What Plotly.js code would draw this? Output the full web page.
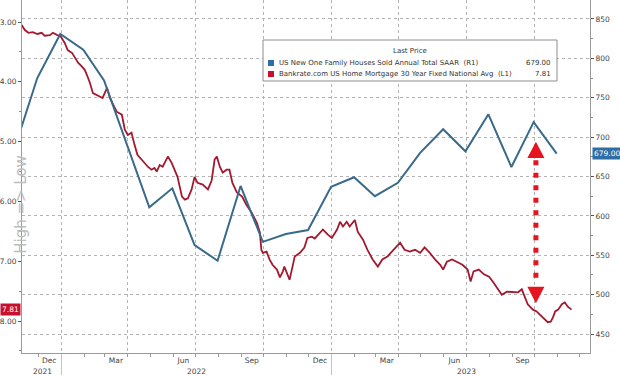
<!DOCTYPE html>
<html>
<head>
<meta charset="utf-8">
<script src="https://cdn.plot.ly/plotly-3.0.1.min.js"></script>
<style>
  html, body { margin: 0; padding: 0; background: #ffffff; }
  #chart { width: 620px; height: 375px; }
</style>
</head>
<body>
<div id="chart"></div>
<script>
// ---------------- DATA ----------------
// US New One Family Houses Sold Annual Total SAAR (thousands), monthly (right axis)
const salesDates = ['2021-10-31','2021-11-30','2021-12-31','2022-01-31','2022-02-28','2022-03-31',
  '2022-04-30','2022-05-31','2022-06-30','2022-07-31','2022-08-31','2022-09-30','2022-10-31',
  '2022-11-30','2022-12-31','2023-01-31','2023-02-28','2023-03-31','2023-04-30','2023-05-31',
  '2023-06-30','2023-07-31','2023-08-31','2023-09-30','2023-10-31'];
const salesValues = [687, 775, 831, 811, 772, 689, 611, 635, 563, 543, 638, 567, 577,
  582, 637, 649, 625, 642, 680, 710, 682, 729, 662, 719, 679];

// Bankrate.com US Home Mortgage 30 Year Fixed National Avg (%), left axis (inverted)
const rateDates = ['2021-11-09','2021-11-13','2021-11-18','2021-11-24','2021-11-30','2021-12-06',
  '2021-12-10','2021-12-17','2021-12-21','2021-12-27','2021-12-31','2022-01-06','2022-01-10',
  '2022-01-16','2022-01-20','2022-01-24','2022-01-28','2022-02-02','2022-02-06','2022-02-09',
  '2022-02-13','2022-02-18','2022-02-22','2022-02-26','2022-03-04','2022-03-08','2022-03-11',
  '2022-03-17','2022-03-24','2022-03-28','2022-04-01','2022-04-06','2022-04-10','2022-04-14',
  '2022-04-21','2022-04-28','2022-05-03','2022-05-07','2022-05-10','2022-05-14','2022-05-18',
  '2022-05-25','2022-05-30','2022-06-03','2022-06-07','2022-06-13','2022-06-17','2022-06-21',
  '2022-06-26','2022-06-30','2022-07-04','2022-07-11','2022-07-18','2022-07-23','2022-07-27',
  '2022-07-30','2022-08-03','2022-08-07','2022-08-12','2022-08-16','2022-08-20','2022-08-26',
  '2022-09-02','2022-09-08','2022-09-15','2022-09-22','2022-09-26','2022-09-28','2022-09-30',
  '2022-10-05','2022-10-09','2022-10-13','2022-10-19','2022-10-23','2022-10-27','2022-10-29',
  '2022-11-02','2022-11-05','2022-11-09','2022-11-12','2022-11-19','2022-11-25','2022-11-29',
  '2022-12-05','2022-12-09','2022-12-13','2022-12-20','2022-12-27','2023-01-01','2023-01-08',
  '2023-01-12','2023-01-16','2023-01-21','2023-01-25','2023-02-01','2023-02-05','2023-02-12',
  '2023-02-18','2023-02-25','2023-03-04','2023-03-10','2023-03-17','2023-03-25','2023-04-03',
  '2023-04-09','2023-04-16','2023-04-23','2023-04-30','2023-05-06','2023-05-13','2023-05-20',
  '2023-05-27','2023-05-31','2023-06-05','2023-06-12','2023-06-19','2023-06-26','2023-07-03',
  '2023-07-07','2023-07-11','2023-07-18','2023-07-25','2023-08-01','2023-08-07','2023-08-13',
  '2023-08-18','2023-08-25','2023-09-02','2023-09-09','2023-09-14','2023-09-18','2023-09-22',
  '2023-09-29','2023-10-04','2023-10-08','2023-10-12','2023-10-15','2023-10-19','2023-10-23',
  '2023-10-26','2023-10-29','2023-11-02','2023-11-07','2023-11-11','2023-11-15','2023-11-20'];
const rateValues = [3.05,3.13,3.18,3.17,3.20,3.18,
  3.23,3.22,3.18,3.22,3.23,3.35,3.47,
  3.52,3.60,3.68,3.73,3.80,3.92,4.02,
  4.19,4.22,4.25,4.27,4.10,4.27,4.35,
  4.50,4.55,4.80,4.89,4.85,5.05,5.22,
  5.32,5.42,5.47,5.44,5.50,5.39,5.42,
  5.25,5.35,5.47,5.59,5.92,5.97,5.95,
  5.80,5.59,5.69,5.72,5.80,5.65,5.30,
  5.25,5.42,5.52,5.47,5.47,5.69,5.85,
  5.92,6.06,6.19,6.36,6.52,6.81,6.86,
  6.84,6.97,7.06,7.14,7.27,7.17,7.09,
  7.22,7.31,7.09,6.92,6.86,6.77,6.61,
  6.59,6.62,6.56,6.47,6.56,6.61,6.47,
  6.34,6.42,6.34,6.42,6.31,6.51,6.64,
  6.81,6.97,7.09,6.97,6.92,6.81,6.69,
  6.81,6.84,6.81,6.86,6.77,6.86,6.97,
  7.06,7.14,7.01,6.97,7.01,7.06,7.14,
  7.34,7.17,7.14,7.22,7.26,7.36,7.47,
  7.56,7.51,7.52,7.52,7.47,7.59,7.72,
  7.81,7.84,7.89,7.94,7.97,8.02,8.01,
  7.94,7.84,7.81,7.72,7.69,7.76,7.81];

const salesName = 'US New One Family Houses Sold Annual Total SAAR  (R1)';
const rateName  = 'Bankrate.com US Home Mortgage 30 Year Fixed National Avg  (L1)';
const legendTitle = 'Last Price';
const yTitle = 'High => Low';

// Tick labels
const monthTickDates  = ['2021-12-16','2022-03-16','2022-06-15','2022-09-15','2022-12-16','2023-03-16','2023-06-15','2023-09-15'];
const monthTickLabels = ['Dec','Mar','Jun','Sep','Dec','Mar','Jun','Sep'];
const yearLabelDates  = ['2021-12-07','2022-07-02','2023-07-01'];
const yearLabels      = ['2021','2022','2023'];
const yearBoundaries  = ['2022-01-01','2023-01-01'];

// ---------------- STYLE / LAYOUT ----------------
const xRange = ['2021-11-09 10:00', '2023-12-14 22:00'];
const leftRange = [8.535, 2.632];
const rightRange = [425.9, 874.1];

const blue = '#3a6a89';
const red = '#a3192f';
const arrowRed = '#e5141f';
const gridCol = '#b4b4b4';
const axisCol = '#9a9a9a';
const tickFont = {family: 'DejaVu Sans', size: 7.5, color: '#444'};
const legFont = {family: 'DejaVu Sans', size: 7, color: '#333'};

const traces = [
  {x: rateDates, y: rateValues, type: 'scatter', mode: 'lines', xaxis: 'x', yaxis: 'y',
   line: {color: red, width: 1.8}, name: rateName, hoverinfo: 'skip'},
  {x: salesDates, y: salesValues, type: 'scatter', mode: 'lines', xaxis: 'x2', yaxis: 'y2',
   line: {color: blue, width: 2}, name: salesName, hoverinfo: 'skip'},
  {x: [], y: [], type: 'scatter', mode: 'lines', xaxis: 'x3', yaxis: 'y', showlegend: false, hoverinfo: 'skip'}
];

// arrow (annotation) geometry in data units
const arrowDate = '2023-10-03';
const arrowHalfDays = 11.5;
const arrowTopTip = 694, arrowTopBase = 673.5, dotTop = 670.5, dotBottom = 519, arrowBotBase = 510, arrowBotTip = 489;
const ms = d => new Date(d + 'T00:00:00Z').getTime();
const aX = ms(arrowDate), aL = aX - arrowHalfDays * 864e5, aR = aX + arrowHalfDays * 864e5;

// paper-coordinate helpers (plot area 22..590 x, 0..353 y in px)
const PX = p => (p - 22) / 568;
const PY = p => (353 - p) / 353;

const shapes = [
  // legend box
  {type: 'rect', xref: 'paper', yref: 'paper', x0: PX(263), x1: PX(557), y0: PY(81), y1: PY(40),
   line: {color: '#8c8c8c', width: 1}, fillcolor: 'white', layer: 'above'},
  {type: 'rect', xref: 'paper', yref: 'paper', x0: PX(268), x1: PX(274), y0: PY(66), y1: PY(60),
   line: {width: 0}, fillcolor: '#2f6ea5', layer: 'above'},
  {type: 'rect', xref: 'paper', yref: 'paper', x0: PX(268), x1: PX(274), y0: PY(77), y1: PY(71),
   line: {width: 0}, fillcolor: '#c8102e', layer: 'above'},
  // dotted arrow shaft
  {type: 'line', xref: 'x2', yref: 'y2', x0: arrowDate, x1: arrowDate, y0: dotTop, y1: dotBottom,
   line: {color: arrowRed, width: 5, dash: '5px,7.5px'}, layer: 'above'},
  // arrow heads
  {type: 'path', xref: 'x2', yref: 'y2', layer: 'above', fillcolor: arrowRed, line: {width: 0},
   path: `M ${aL},${arrowTopBase} L ${aR},${arrowTopBase} L ${aX},${arrowTopTip} Z`},
  {type: 'path', xref: 'x2', yref: 'y2', layer: 'above', fillcolor: arrowRed, line: {width: 0},
   path: `M ${aL},${arrowBotBase} L ${aR},${arrowBotBase} L ${aX},${arrowBotTip} Z`}
];

const lastSales = salesValues[salesValues.length - 1];
const lastRate = rateValues[rateValues.length - 1];

const annotations = [
  {xref: 'paper', yref: 'paper', x: -0.021, y: 0.42, text: yTitle, textangle: -90, showarrow: false,
   font: {family: 'DejaVu Sans', size: 15, color: '#bdbdbd'}},
  {xref: 'paper', yref: 'paper', x: PX(410), y: PY(51), text: legendTitle, showarrow: false, font: legFont, xanchor: 'center', yanchor: 'middle'},
  {xref: 'paper', yref: 'paper', x: PX(277), y: PY(63), text: salesName, showarrow: false, font: legFont, xanchor: 'left', yanchor: 'middle'},
  {xref: 'paper', yref: 'paper', x: PX(277), y: PY(74), text: rateName, showarrow: false, font: legFont, xanchor: 'left', yanchor: 'middle'},
  {xref: 'paper', yref: 'paper', x: PX(553), y: PY(63), text: lastSales.toFixed(2), showarrow: false, font: legFont, xanchor: 'right', yanchor: 'middle'},
  {xref: 'paper', yref: 'paper', x: PX(553), y: PY(74), text: lastRate.toFixed(2), showarrow: false, font: legFont, xanchor: 'right', yanchor: 'middle'},
  {xref: 'paper', yref: 'y', x: 0, y: lastRate, text: lastRate.toFixed(2), showarrow: false, xanchor: 'right', xshift: -1,
   bgcolor: '#c8102e', borderpad: 1, font: {family: 'DejaVu Sans', size: 7.5, color: 'white'}},
  {xref: 'paper', yref: 'y2', x: 1, y: lastSales, text: lastSales.toFixed(2), showarrow: false, xanchor: 'left', xshift: 2,
   bgcolor: '#2f6ea5', borderpad: 1, font: {family: 'DejaVu Sans', size: 7.5, color: 'white'}}
];
yearLabelDates.forEach((d, i) => annotations.push({
  xref: 'x', yref: 'paper', x: d, y: 0, yanchor: 'top', yshift: -12, text: yearLabels[i], showarrow: false, font: tickFont
}));

const layout = {
  width: 620, height: 375,
  margin: {l: 22, r: 30, t: 0, b: 22, pad: 0},
  paper_bgcolor: 'white', plot_bgcolor: 'white',
  showlegend: false,
  font: tickFont,
  xaxis: {type: 'date', range: xRange, tickmode: 'array', tickvals: monthTickDates, ticktext: monthTickLabels,
    ticks: '', showgrid: false, showline: true, linecolor: axisCol, linewidth: 1, zeroline: false, tickfont: tickFont},
  xaxis2: {type: 'date', overlaying: 'x', anchor: 'y2', range: xRange, tickmode: 'linear', tick0: '2022-01-01', dtick: 'M3',
    ticks: 'outside', ticklen: 3, tickcolor: axisCol, showticklabels: false, showgrid: true, gridcolor: gridCol,
    griddash: 'dot', gridwidth: 1, showline: false, zeroline: false,
    minor: {tick0: '2021-11-01', dtick: 'M1', ticks: 'outside', ticklen: 3, tickcolor: axisCol, showgrid: false}},
  xaxis3: {type: 'date', overlaying: 'x', anchor: 'y', range: xRange, tickmode: 'array', tickvals: yearBoundaries,
    ticks: 'outside', ticklen: 22, tickcolor: '#c4c4c4', showticklabels: false, showgrid: false, showline: false, zeroline: false},
  yaxis: {range: leftRange, tickmode: 'linear', tick0: 3, dtick: 1, tickformat: '.2f', ticks: 'outside', ticklen: 3,
    tickcolor: '#555', showgrid: false, showline: true, linecolor: axisCol, zeroline: false, tickfont: tickFont,
    minor: {dtick: 0.5, ticks: 'outside', ticklen: 2, tickcolor: '#888', showgrid: false}},
  yaxis2: {overlaying: 'y', side: 'right', anchor: 'x2', range: rightRange, tickmode: 'linear', tick0: 450, dtick: 50,
    ticks: 'outside', ticklen: 3, tickcolor: '#555', showgrid: true, gridcolor: gridCol, griddash: 'dot', gridwidth: 1,
    showline: true, linecolor: axisCol, zeroline: false, tickfont: tickFont,
    minor: {dtick: 25, ticks: 'outside', ticklen: 2, tickcolor: '#888', showgrid: false}},
  shapes: shapes,
  annotations: annotations
};

Plotly.newPlot('chart', traces, layout, {staticPlot: true, displayModeBar: false});
</script>
</body>
</html>
